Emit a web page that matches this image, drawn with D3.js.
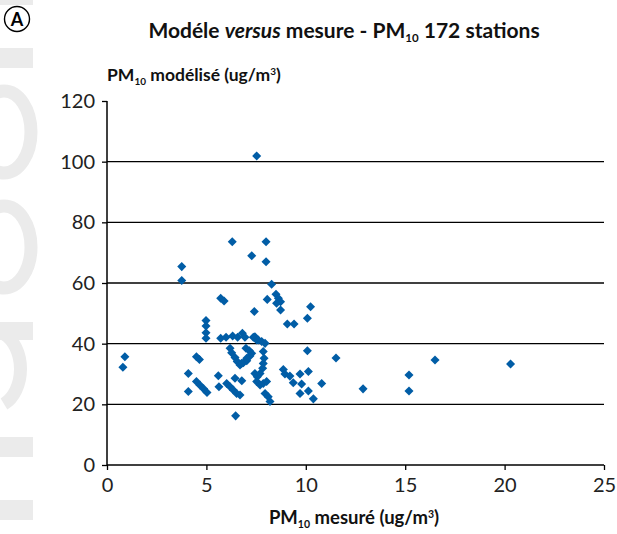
<!DOCTYPE html>
<html>
<head>
<meta charset="utf-8">
<script src="https://cdn.jsdelivr.net/npm/d3@7"></script>
<style>
  html, body { margin: 0; padding: 0; background: #fff; }
  svg { display: block; }
</style>
</head>
<body>
<svg id="chart" width="617" height="534"></svg>
<script>
// ---- data ----
const measured = [
  0.80, 0.90, 3.76, 3.76, 4.09, 4.09, 4.50, 4.65, 4.50, 4.68,
  4.86, 5.03, 4.98, 4.98, 4.98, 4.98, 5.60, 5.63, 5.72, 5.89,
  5.72, 5.99, 6.32, 6.57, 6.81, 6.94, 6.19, 6.27, 6.02, 6.19,
  6.35, 6.52, 6.69, 6.44, 6.78, 6.47, 6.30, 6.44, 6.55, 6.69,
  6.86, 7.03, 6.99, 7.16, 7.28, 7.19, 7.03, 7.28, 7.41, 7.36,
  7.53, 7.44, 7.61, 7.78, 7.95, 7.44, 7.56, 7.53, 7.53, 7.86,
  7.90, 7.86, 7.83, 7.70, 7.70, 7.86, 8.03, 7.95, 8.11, 8.20,
  8.00, 8.00, 8.28, 8.50, 8.62, 8.73, 8.53, 8.06, 8.73, 10.24,
  10.08, 9.07, 9.41, 10.08, 8.87, 8.95, 9.20, 9.37, 9.71, 10.13,
  9.79, 9.71, 10.13, 10.38, 10.80, 11.52, 12.88, 15.19, 15.19, 16.50,
  20.30, 6.77
];
const modelled = [
  32.2, 35.7, 65.4, 60.8, 30.2, 24.2, 35.7, 34.8, 27.5, 26.3,
  25.1, 23.9, 47.6, 45.8, 43.6, 41.8, 29.4, 25.8, 55.0, 54.1,
  41.8, 42.1, 42.5, 42.1, 43.4, 42.1, 38.5, 37.0, 26.9, 25.8,
  24.7, 23.6, 23.1, 28.6, 27.8, 16.2, 73.6, 35.4, 34.1, 33.0,
  33.7, 34.4, 38.5, 37.7, 36.8, 35.9, 35.2, 69.0, 50.6, 42.1,
  41.2, 42.3, 41.2, 40.7, 40.1, 30.2, 29.1, 27.5, 101.9, 37.4,
  35.2, 33.5, 31.9, 30.2, 26.4, 26.9, 27.5, 23.6, 22.5, 20.9,
  73.6, 67.0, 59.6, 56.3, 55.0, 53.8, 53.3, 54.6, 51.1, 52.2,
  48.4, 46.5, 46.5, 37.7, 31.5, 30.0, 29.3, 27.1, 30.0, 30.8,
  26.7, 23.6, 24.4, 21.8, 26.9, 35.3, 25.1, 29.7, 24.4, 34.6,
  33.3, 33.5
];
const xTicks = [0, 5, 10, 15, 20, 25];
const yTicks = [0, 20, 40, 60, 80, 100, 120];
const gridValues = [20, 40, 60, 80, 100];

// ---- layout ----
const svg = d3.select("#chart");
const plotLeft = 107, plotRight = 604, plotTop = 101, plotBottom = 465;
const x = d3.scaleLinear().domain([0, 25]).range([plotLeft, plotRight]);
const y = d3.scaleLinear().domain([0, 120]).range([plotBottom, plotTop]);
const tickFont = "Lato, 'Open Sans', sans-serif";
const boldFont = "Lato, 'Open Sans', sans-serif";

// ---- watermark (light grey shapes at left) ----
const wm = svg.append("g").attr("fill", "#ebebeb").attr("stroke", "none");
wm.append("rect").attr("x", 0).attr("y", 0).attr("width", 33).attr("height", 5);
wm.append("rect").attr("x", 0).attr("y", 48).attr("width", 33).attr("height", 20);
[132, 247].forEach(cy => {
  svg.append("ellipse").attr("cx", 4).attr("cy", cy).attr("rx", 27).attr("ry", 41)
    .attr("fill", "none").attr("stroke", "#ebebeb").attr("stroke-width", 13);
});
wm.append("rect").attr("x", 0).attr("y", 322).attr("width", 33).attr("height", 18);
svg.append("path")
  .attr("d", "M 4 334 A 27 38 0 0 1 4 404")
  .attr("fill", "none").attr("stroke", "#ebebeb").attr("stroke-width", 13);
wm.append("rect").attr("x", 0).attr("y", 437).attr("width", 33).attr("height", 20);
wm.append("rect").attr("x", 0).attr("y", 500).attr("width", 33).attr("height", 20);

// ---- circled A ----
svg.append("circle").attr("cx", 17).attr("cy", 19).attr("r", 12.5)
  .attr("fill", "#fff").attr("stroke", "#000").attr("stroke-width", 1.4);
svg.append("text").attr("x", 17).attr("y", 25.5).attr("text-anchor", "middle")
  .attr("font-family", boldFont).attr("font-weight", "bold").attr("font-size", 18)
  .text("A");

// ---- title ----
const title = svg.append("text").attr("x", 344).attr("y", 38).attr("text-anchor", "middle")
  .attr("font-family", boldFont).attr("font-weight", "bold").attr("font-size", 21).attr("fill", "#111");
title.append("tspan").text("Modéle ");
title.append("tspan").attr("font-style", "italic").text("versus");
title.append("tspan").text(" mesure - PM");
title.append("tspan").attr("font-size", 11.5).attr("dy", 4).text("10");
title.append("tspan").attr("dy", -4).text(" 172 stations");

// ---- y axis label ----
const yl = svg.append("text").attr("x", 107).attr("y", 81)
  .attr("font-family", boldFont).attr("font-weight", "bold").attr("font-size", 17.5).attr("fill", "#111");
yl.append("tspan").text("PM");
yl.append("tspan").attr("font-size", 10).attr("dy", 4).text("10");
yl.append("tspan").attr("dy", -4).text(" modélisé (ug/m");
yl.append("tspan").attr("font-size", 10).attr("dy", -6).text("3");
yl.append("tspan").attr("dy", 6).text(")");

// ---- x axis label ----
const xl = svg.append("text").attr("x", 354).attr("y", 524).attr("text-anchor", "middle")
  .attr("font-family", boldFont).attr("font-weight", "bold").attr("font-size", 18.5).attr("fill", "#111");
xl.append("tspan").text("PM");
xl.append("tspan").attr("font-size", 10.5).attr("dy", 4).text("10");
xl.append("tspan").attr("dy", -4).text(" mesuré (ug/m");
xl.append("tspan").attr("font-size", 10.5).attr("dy", -6).text("3");
xl.append("tspan").attr("dy", 6).text(")");

// ---- gridlines ----
svg.append("g").selectAll("line").data(gridValues).join("line")
  .attr("x1", plotLeft).attr("x2", plotRight)
  .attr("y1", d => y(d)).attr("y2", d => y(d))
  .attr("stroke", "#000").attr("stroke-width", 1.3);

// ---- axes ----
const yAxis = svg.append("g").attr("transform", `translate(${plotLeft},0)`)
  .call(d3.axisLeft(y).tickValues(yTicks).tickSize(5).tickPadding(7));
const xAxis = svg.append("g").attr("transform", `translate(0,${plotBottom})`)
  .call(d3.axisBottom(x).tickValues(xTicks).tickSize(5).tickPadding(8));
[yAxis, xAxis].forEach(g => {
  g.select(".domain").attr("stroke", "#000").attr("stroke-width", 1.5);
  g.selectAll(".tick line").attr("stroke", "#000").attr("stroke-width", 1.3);
  g.selectAll(".tick text").attr("font-family", tickFont).attr("font-size", 20)
    .attr("fill", "#222");
});
yAxis.select(".domain").attr("d", `M0,${plotTop}V${plotBottom}`);
xAxis.select(".domain").attr("d", `M${plotLeft},0H${plotRight}`);

// ---- points ----
const pts = measured.map((m, i) => ({ m, v: modelled[i] }));
const sym = d3.symbol().type(d3.symbolDiamond2).size(52);
svg.append("g").selectAll("path").data(pts).join("path")
  .attr("transform", d => `translate(${x(d.m)},${y(d.v)})`)
  .attr("d", sym)
  .attr("fill", "#015da6");
</script>
</body>
</html>
